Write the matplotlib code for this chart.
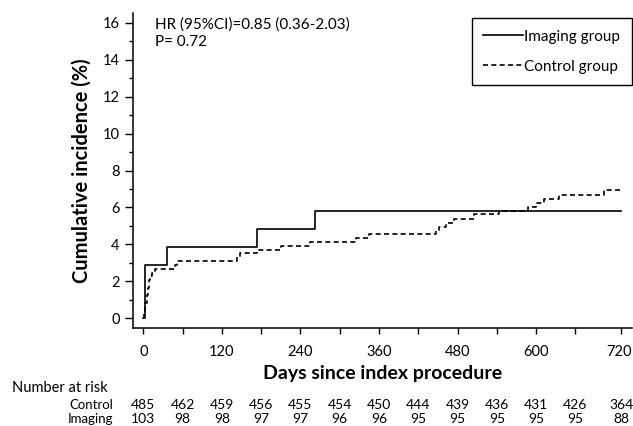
import matplotlib
matplotlib.use('Agg')
import matplotlib.pyplot as plt
import matplotlib.transforms as mtransforms

plt.rcParams['font.family'] = ['Lato', 'DejaVu Sans']

# cumulative incidence curves (days, %)
imaging_days = [0, 3, 36, 173, 263, 730]
imaging_vals = [0, 2.91, 3.88, 4.85, 5.83, 5.83]

control_days = [0, 1, 3, 5, 7, 9, 11, 13, 18, 48, 52, 143, 148, 173, 211, 255,
                325, 345, 447, 452, 462, 474, 505, 544, 588, 600, 612, 635, 703, 730]
control_vals = [0, 0.41, 0.82, 1.24, 1.65, 2.06, 2.27, 2.47, 2.68, 2.88, 3.09, 3.30,
                3.51, 3.71, 3.92, 4.12, 4.33, 4.54, 4.74, 4.95, 5.16, 5.40, 5.62,
                5.82, 6.04, 6.25, 6.45, 6.68, 6.92, 6.92]

# number at risk table
risk_days = [0, 60, 120, 180, 240, 300, 360, 420, 480, 540, 600, 660, 730]
risk_control = [485, 462, 459, 456, 455, 454, 450, 444, 439, 436, 431, 426, 364]
risk_imaging = [103, 98, 98, 97, 97, 96, 96, 95, 95, 95, 95, 95, 88]

xtick_pos = [0, 120, 240, 360, 480, 600, 730]
xtick_labels = ['0', '120', '240', '360', '480', '600', '720']

fig = plt.figure(figsize=(6.33, 4.26), dpi=100)
ax = fig.add_axes([0.2101, 0.2293, 0.7879, 0.7409])

ax.plot(imaging_days, imaging_vals, drawstyle='steps-post', color='black',
        lw=1.2, label='Imaging group')
ax.plot(control_days, control_vals, drawstyle='steps-post', color='black',
        lw=1.2, linestyle=(0, (3.0, 2.0)), label='Control group')

ax.set_xlim(-15.7, 746)
ax.set_ylim(-0.54, 16.54)

ax.spines['top'].set_visible(False)
ax.spines['right'].set_visible(False)
for s in ['left', 'bottom']:
    ax.spines[s].set_linewidth(1.1)

ax.set_xticks(xtick_pos)
ax.set_xticklabels(xtick_labels)
ax.set_xticks([60, 180, 300, 420, 540, 660], minor=True)
ax.set_yticks(range(0, 17, 2))
ax.set_yticks(range(0, 17, 1), minor=True)
ax.tick_params(axis='both', which='major', labelsize=10.5, width=1.0, direction='out')
ax.tick_params(axis='y', which='major', length=5.5, pad=4)
ax.tick_params(axis='y', which='minor', length=3, width=1.0)
ax.tick_params(axis='x', which='both', length=4, width=1.0, pad=8)
# last label sits at the right edge; nudge it in a little
last = ax.get_xticklabels()[-1]
last.set_transform(last.get_transform() +
                   mtransforms.ScaledTranslation(-2 / 100, 0, fig.dpi_scale_trans))

ax.set_ylabel('Cumulative incidence (%)', fontsize=14.5, fontweight='bold', labelpad=8)
ax.set_xlabel('Days since index procedure', fontsize=14, fontweight='bold', labelpad=4)

ax.text(0.044, 0.964, 'HR (95%CI)=0.85 (0.36-2.03)', transform=ax.transAxes,
        fontsize=11, va='center', ha='left')
ax.text(0.044, 0.907, 'P= 0.72', transform=ax.transAxes,
        fontsize=11, va='center', ha='left')

leg = ax.legend(loc='upper right', bbox_to_anchor=(0.998, 0.957),
                bbox_transform=fig.transFigure, borderaxespad=0,
                fancybox=False, edgecolor='black', fontsize=11,
                handlelength=2.6, handletextpad=0.1, labelspacing=1.05,
                borderpad=0.75, framealpha=1)
leg.get_frame().set_linewidth(1.0)

# number at risk rows below the axis
trans = mtransforms.blended_transform_factory(ax.transData, fig.transFigure)
fig.text(12 / 633, 1 - 388 / 426, 'Number at risk', fontsize=10.5, va='center', ha='left')
fig.text(113 / 633, 1 - 405 / 426, 'Control', fontsize=9.5, va='center', ha='right')
fig.text(113 / 633, 1 - 419 / 426, 'Imaging', fontsize=9.5, va='center', ha='right')
for d, c, i in zip(risk_days, risk_control, risk_imaging):
    ax.text(d, 1 - 405 / 426, str(c), transform=trans, fontsize=10,
            va='center', ha='center', clip_on=False)
    ax.text(d, 1 - 419 / 426, str(i), transform=trans, fontsize=10,
            va='center', ha='center', clip_on=False)

fig.savefig('out.png', dpi=100)
